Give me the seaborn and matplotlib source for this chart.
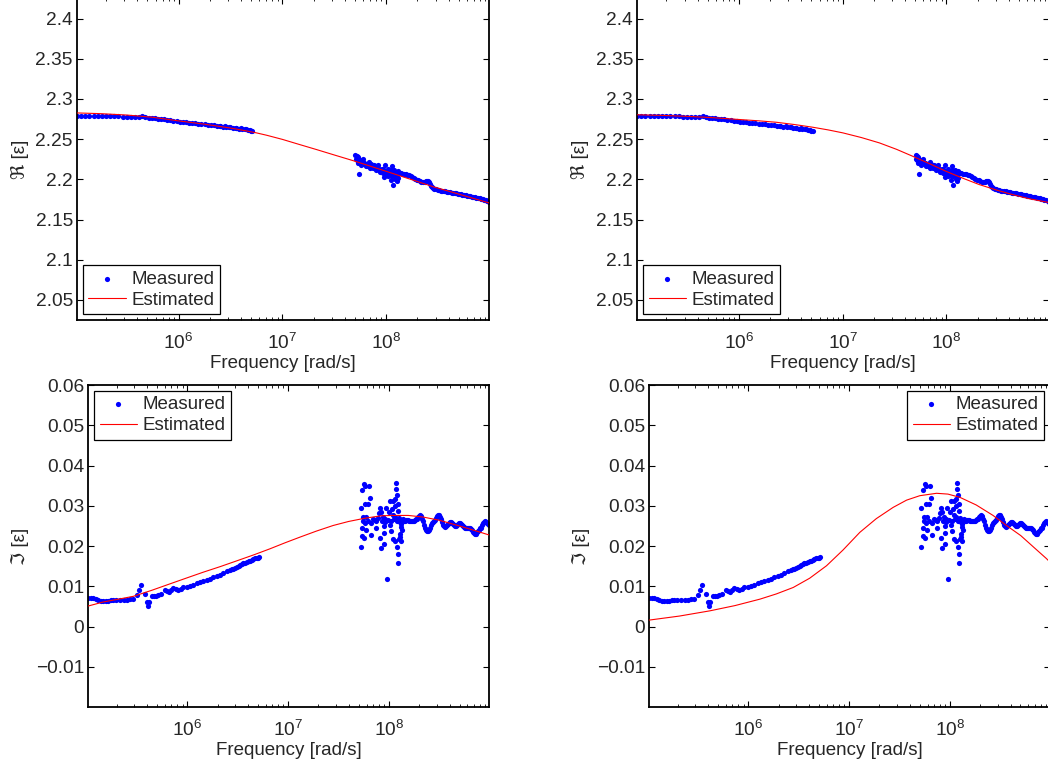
import numpy as np
import matplotlib
matplotlib.use("Agg")
import matplotlib.pyplot as plt
import seaborn as sns
from matplotlib.ticker import FuncFormatter, LogLocator, NullFormatter

# frequencies are kept as log10 of rad/s

# measured real part (same data in both columns)
real_meas_logw = [
    5.021, 5.06, 5.10, 5.14, 5.18, 5.22, 5.26, 5.30, 5.34, 5.38, 5.42, 5.46, 5.50, 5.54, 5.58,
    5.62, 5.65, 5.68, 5.71, 5.74, 5.77, 5.80, 5.83, 5.86, 5.89, 5.92, 5.95, 5.98, 6.01, 6.04,
    6.07, 6.10, 6.13, 6.16, 6.19, 6.22, 6.25, 6.28, 6.31, 6.34, 6.37, 6.40, 6.43, 6.46, 6.49,
    6.52, 6.55, 6.58, 6.61, 6.64, 6.67, 6.70, 6.71,
    6.40, 6.45, 6.50, 6.55, 6.60, 6.65, 6.69,
    # cluster around 1e8
    7.704, 7.715, 7.726, 7.749, 7.774, 7.735, 7.726, 7.759, 7.790, 7.807, 7.838, 7.845, 7.870,
    7.903, 7.918, 7.934, 7.966, 7.983, 7.989, 7.999, 8.014, 8.031, 8.047, 8.062, 8.057, 8.079,
    8.088, 8.101, 8.120,
    7.71, 7.74, 7.77, 7.80, 7.83, 7.86, 7.89, 7.92, 7.95, 7.98, 8.01, 8.04, 8.07, 8.10,
    7.73, 7.75, 7.78, 7.82, 7.85, 7.88, 7.94, 7.97, 8.02, 8.05, 8.09, 8.11,
    7.72, 7.76, 7.79, 7.81, 7.84, 7.87, 7.90, 7.93, 7.96, 7.99, 8.03, 8.06, 8.08, 8.11,
    # upper band
    8.13, 8.16, 8.19, 8.22, 8.25, 8.28, 8.31, 8.34, 8.37, 8.39, 8.41, 8.43, 8.45, 8.48, 8.51,
    8.54, 8.57, 8.60, 8.63, 8.66, 8.69, 8.72, 8.75, 8.78, 8.81, 8.84, 8.87, 8.90, 8.93, 8.96, 8.99,
    8.145, 8.175, 8.205, 8.235, 8.265, 8.295, 8.325, 8.355, 8.38, 8.40, 8.42, 8.44, 8.465, 8.495,
    8.525, 8.555, 8.585, 8.615, 8.645, 8.675, 8.705, 8.735, 8.765, 8.795, 8.825, 8.855, 8.885,
    8.915, 8.945, 8.975,
]
real_meas = [
    2.2790, 2.2790, 2.2789, 2.2789, 2.2788, 2.2788, 2.2787, 2.2786, 2.2785, 2.2784, 2.2783, 2.2781,
    2.2780, 2.2778, 2.2777, 2.2778, 2.2782, 2.2778, 2.2769, 2.2764, 2.2760, 2.2756, 2.2750, 2.2745,
    2.2739, 2.2734, 2.2728, 2.2722, 2.2716, 2.2712, 2.2708, 2.2704, 2.2700, 2.2696, 2.2692, 2.2688,
    2.2684, 2.2680, 2.2676, 2.2672, 2.2667, 2.2661, 2.2656, 2.2650, 2.2645, 2.2640, 2.2635, 2.2630,
    2.2625, 2.2620, 2.2612, 2.2603, 2.2597,
    2.2668, 2.2659, 2.2649, 2.2641, 2.2633, 2.2624, 2.2614,
    2.2308, 2.2290, 2.2280, 2.2246, 2.2254, 2.2072, 2.2205, 2.2184, 2.2205, 2.2163, 2.2213, 2.2143,
    2.2163, 2.2122, 2.2184, 2.2113, 2.2080, 2.2031, 2.2184, 2.2100, 2.2130, 2.2059, 2.1997, 2.1935,
    2.2163, 2.2122, 2.2038, 2.1976, 2.2080,
    2.2250, 2.2230, 2.2215, 2.2195, 2.2180, 2.2160, 2.2150, 2.2135, 2.2115, 2.2100, 2.2085, 2.2070,
    2.2060, 2.2050,
    2.2225, 2.2200, 2.2190, 2.2170, 2.2190, 2.2175, 2.2090, 2.2130, 2.2040, 2.2110, 2.2000, 2.2100,
    2.2235, 2.2225, 2.2200, 2.2185, 2.2165, 2.2140, 2.2160, 2.2120, 2.2125, 2.2080, 2.2095, 2.2040,
    2.2090, 2.2020,
    2.2078, 2.2072, 2.2066, 2.2050, 2.2025, 2.2005, 2.1987, 2.1972, 2.1966, 2.1985, 2.1972, 2.1920,
    2.1893, 2.1874, 2.1864, 2.1856, 2.1849, 2.1842, 2.1836, 2.1830, 2.1823, 2.1815, 2.1807, 2.1797,
    2.1788, 2.1780, 2.1771, 2.1763, 2.1752, 2.1739, 2.1723,
    2.2074, 2.2069, 2.2060, 2.2038, 2.2015, 2.1996, 2.1980, 2.1968, 2.1978, 2.1982, 2.1948, 2.1905,
    2.1882, 2.1868, 2.1860, 2.1852, 2.1845, 2.1839, 2.1833, 2.1826, 2.1819, 2.1811, 2.1802, 2.1792,
    2.1784, 2.1775, 2.1767, 2.1757, 2.1745, 2.1731,
]

# measured imaginary part
imag_meas_logw = [
    5.021, 5.050, 5.071, 5.095, 5.120, 5.145, 5.170, 5.195, 5.219, 5.245, 5.269, 5.300, 5.335,
    5.370, 5.401, 5.435, 5.467, 5.500, 5.523, 5.546, 5.579, 5.599, 5.612, 5.625, 5.649, 5.670,
    5.691, 5.715, 5.738, 5.777, 5.800, 5.820, 5.840, 5.863, 5.890, 5.912, 5.940, 5.962, 5.995,
    6.028, 6.061, 6.094, 6.127, 6.160, 6.193, 6.226, 6.259, 6.292, 6.325, 6.358, 6.391, 6.424,
    6.457, 6.490, 6.523, 6.556, 6.589, 6.622, 6.655, 6.688, 6.714,
    6.44, 6.47, 6.51, 6.54, 6.57, 6.61, 6.64, 6.67, 6.70,
    # scattered cluster around 1e8
    7.751, 7.764, 7.803, 7.731, 7.810, 7.760, 7.790, 7.718, 7.744, 7.777, 7.731, 7.771, 7.731,
    7.751, 7.718, 7.826, 7.843, 7.876, 7.909, 7.926, 7.942, 7.959, 7.909, 7.949, 7.926, 7.949,
    7.981, 7.975, 8.008, 8.041, 8.058, 8.074, 8.074, 8.080, 8.090, 8.041, 8.058, 8.008, 8.025,
    8.041, 8.058, 8.080, 8.090, 8.090, 8.107, 8.124, 8.107, 8.100, 8.140,
    7.86, 7.89, 7.93, 7.96, 7.99, 8.02, 8.05, 8.08, 8.10, 8.12, 8.13, 8.15, 7.87, 7.82, 7.79,
    7.76, 7.74, 7.90, 7.95, 8.00, 8.03, 8.06, 8.09, 8.11, 8.12,
    # oscillating band
    8.157, 8.177, 8.197, 8.217, 8.237, 8.256, 8.276, 8.296, 8.316, 8.336, 8.356, 8.375, 8.395,
    8.415, 8.435, 8.455, 8.474, 8.494, 8.514, 8.534, 8.554, 8.573, 8.593, 8.613, 8.633, 8.653,
    8.673, 8.692, 8.712, 8.732, 8.752, 8.772, 8.791, 8.811, 8.831, 8.851, 8.871, 8.890, 8.910,
    8.930, 8.950, 8.969, 8.989,
    8.167, 8.187, 8.207, 8.227, 8.247, 8.266, 8.286, 8.306, 8.326, 8.346, 8.366, 8.385, 8.405,
    8.425, 8.445, 8.465, 8.484, 8.504, 8.524, 8.544, 8.564, 8.583, 8.603, 8.623, 8.643, 8.663,
    8.683, 8.702, 8.722, 8.742, 8.762, 8.782, 8.801, 8.821, 8.841, 8.861, 8.881, 8.900, 8.920,
    8.940, 8.960, 8.979,
]
imag_meas = [
    0.0071, 0.0071, 0.0070, 0.0068, 0.0066, 0.0064, 0.0063, 0.0063, 0.0064, 0.0065, 0.0066, 0.0066,
    0.0067, 0.0067, 0.0067, 0.0068, 0.0069, 0.0078, 0.0090, 0.0103, 0.0080, 0.0060, 0.0051, 0.0061,
    0.0076, 0.0077, 0.0077, 0.0079, 0.0080, 0.0091, 0.0088, 0.0086, 0.0090, 0.0095, 0.0093, 0.0091,
    0.0094, 0.0097, 0.0099, 0.0101, 0.0104, 0.0107, 0.0110, 0.0113, 0.0116, 0.0119, 0.0122, 0.0125,
    0.0129, 0.0133, 0.0137, 0.0141, 0.0144, 0.0148, 0.0153, 0.0157, 0.0160, 0.0164, 0.0167, 0.0170,
    0.0173,
    0.0143, 0.0146, 0.0151, 0.0155, 0.0158, 0.0163, 0.0166, 0.0169, 0.0171,
    0.0353, 0.0350, 0.0350, 0.0338, 0.0319, 0.0305, 0.0305, 0.0295, 0.0272, 0.0272, 0.0244, 0.0240,
    0.0226, 0.0220, 0.0197, 0.0227, 0.0267, 0.0263, 0.0294, 0.0284, 0.0272, 0.0259, 0.0220, 0.0232,
    0.0194, 0.0205, 0.0118, 0.0294, 0.0311, 0.0313, 0.0317, 0.0357, 0.0342, 0.0327, 0.0288, 0.0276,
    0.0272, 0.0251, 0.0238, 0.0217, 0.0213, 0.0197, 0.0180, 0.0158, 0.0259, 0.0247, 0.0230, 0.0217,
    0.0267,
    0.0265, 0.0270, 0.0262, 0.0268, 0.0265, 0.0262, 0.0268, 0.0262, 0.0270, 0.0255, 0.0240, 0.0262,
    0.0245, 0.0258, 0.0262, 0.0258, 0.0262, 0.0283, 0.0250, 0.0285, 0.0292, 0.0300, 0.0305, 0.0222,
    0.0212,
    0.0262, 0.0265, 0.0263, 0.0261, 0.0263, 0.0264, 0.0268, 0.0275, 0.0274, 0.0262, 0.0245, 0.0237,
    0.0240, 0.0252, 0.0259, 0.0265, 0.0274, 0.0277, 0.0266, 0.0252, 0.0248, 0.0252, 0.0258, 0.0260,
    0.0255, 0.0249, 0.0252, 0.0256, 0.0254, 0.0249, 0.0245, 0.0244, 0.0246, 0.0242, 0.0236, 0.0230,
    0.0234, 0.0241, 0.0246, 0.0256, 0.0261, 0.0257, 0.0253,
    0.0264, 0.0264, 0.0262, 0.0262, 0.0263, 0.0266, 0.0272, 0.0276, 0.0268, 0.0253, 0.0240, 0.0238,
    0.0246, 0.0256, 0.0262, 0.0270, 0.0276, 0.0272, 0.0259, 0.0249, 0.0250, 0.0255, 0.0259, 0.0258,
    0.0252, 0.0250, 0.0254, 0.0256, 0.0251, 0.0247, 0.0244, 0.0245, 0.0244, 0.0239, 0.0233, 0.0231,
    0.0237, 0.0244, 0.0251, 0.0259, 0.0259, 0.0255,
]

# estimated curves, left column model
est_real_left_logw = [5.021, 5.25, 5.50, 5.75, 6.00, 6.25, 6.50, 6.65, 6.75, 6.85, 7.00, 7.16,
                      7.33, 7.50, 7.68, 7.84, 8.00, 8.16, 8.32, 8.46, 8.61, 8.80, 8.99]
est_real_left = [2.2826, 2.2817, 2.2800, 2.2772, 2.2727, 2.2686, 2.2638, 2.2603, 2.2578, 2.2548,
                 2.2497, 2.2435, 2.2370, 2.2303, 2.2233, 2.2167, 2.2100, 2.2032, 2.1965, 2.1905,
                 2.1850, 2.1778, 2.1707]
est_imag_left_logw = [5.021, 5.17, 5.32, 5.467, 5.65, 5.83, 6.00, 6.16, 6.33, 6.49, 6.66, 6.82,
                      6.97, 7.117, 7.28, 7.447, 7.60, 7.76, 7.92, 8.041, 8.19, 8.338, 8.50,
                      8.668, 8.83, 8.998]
est_imag_left = [0.0051, 0.0061, 0.0068, 0.0075, 0.0090, 0.0106, 0.0121, 0.0135, 0.0149, 0.0163,
                 0.0178, 0.0193, 0.0208, 0.0222, 0.0237, 0.0251, 0.0261, 0.0269, 0.0275, 0.0276,
                 0.0276, 0.0272, 0.0264, 0.0252, 0.0240, 0.0227]

# estimated curves, right column model
est_real_right_logw = [5.021, 5.25, 5.496, 5.75, 6.008, 6.19, 6.361, 6.54, 6.713, 6.86, 7.002,
                       7.18, 7.355, 7.52, 7.675, 7.84, 7.996, 8.16, 8.316, 8.48, 8.637, 8.80,
                       8.973, 8.991]
est_real_right = [2.2803, 2.2796, 2.2784, 2.2767, 2.2744, 2.2728, 2.2710, 2.2681, 2.2648, 2.2615,
                  2.2578, 2.2520, 2.2453, 2.2373, 2.2287, 2.2193, 2.2100, 2.2013, 2.1935, 2.1868,
                  2.1810, 2.1758, 2.1715, 2.1711]
est_imag_right_logw = [5.021, 5.32, 5.622, 5.87, 6.117, 6.28, 6.447, 6.61, 6.777, 6.94, 7.107,
                       7.27, 7.437, 7.57, 7.701, 7.867, 7.98, 8.098, 8.26, 8.427, 8.56, 8.701,
                       8.83, 8.955, 8.991]
est_imag_right = [0.0016, 0.0026, 0.0039, 0.0052, 0.0068, 0.0081, 0.0097, 0.0120, 0.0151, 0.0190,
                  0.0234, 0.0268, 0.0296, 0.0314, 0.0325, 0.0331, 0.0329, 0.0321, 0.0302, 0.0276,
                  0.0251, 0.0226, 0.0197, 0.0169, 0.0160]

real_ticks = [2.05, 2.1, 2.15, 2.2, 2.25, 2.3, 2.35, 2.4]
imag_ticks = [-0.01, 0, 0.01, 0.02, 0.03, 0.04, 0.05, 0.06]

sns.set_theme(style="white")
plt.rcParams["font.family"] = ["Liberation Sans", "DejaVu Sans"]
plt.rcParams["mathtext.default"] = "regular"

fig = plt.figure(figsize=(10.48, 7.65), dpi=100)
ax_rl = fig.add_axes([0.0735, 0.5817, 0.3931, 0.4203])
ax_il = fig.add_axes([0.0843, 0.0758, 0.3823, 0.4209])
ax_rr = fig.add_axes([0.6081, 0.5817, 0.3931, 0.4203])
ax_ir = fig.add_axes([0.6196, 0.0758, 0.3823, 0.4209])


def tick_fmt(v, pos):
    return ("%g" % round(v, 4)).replace("-", "\u2212")


def draw(ax, mw, mv, ew, ev, ylab, yticks, ylim, legloc):
    w = 10 ** np.array(mw)
    sns.scatterplot(x=w, y=mv, ax=ax, color="blue", s=14, linewidth=0,
                    label="Measured", zorder=2)
    sns.lineplot(x=10 ** np.array(ew), y=ev, ax=ax, color="red", linewidth=0.8,
                 sort=False, estimator=None, label="Estimated", zorder=3)
    ax.set_xscale("log")
    ax.set_xlim(1.05e5, 9.8e8)
    ax.set_ylim(*ylim)
    ax.set_yticks(yticks)
    ax.yaxis.set_major_formatter(FuncFormatter(tick_fmt))
    ax.xaxis.set_major_locator(LogLocator(base=10))
    ax.xaxis.set_minor_locator(LogLocator(base=10, subs=np.arange(2, 10)))
    ax.xaxis.set_minor_formatter(NullFormatter())
    ax.tick_params(which="both", direction="in", top=True, right=True, bottom=True,
                   left=True, color="black", labelsize=13.8)
    ax.tick_params(axis="y", pad=3)
    ax.tick_params(axis="x", pad=9.5)
    ax.tick_params(which="major", length=4, width=0.8)
    ax.tick_params(which="minor", length=2, width=0.6)
    for sp in ax.spines.values():
        sp.set_color("black")
        sp.set_linewidth(1.3)
    ax.set_xlabel("Frequency [rad/s]", fontsize=13.5, labelpad=1)
    ax.set_ylabel(ylab, fontsize=13.5, labelpad=5)
    leg = ax.legend(loc=legloc, fontsize=13.5, frameon=True, fancybox=False,
                    edgecolor="black", framealpha=1, borderaxespad=0.3,
                    handlelength=2.0, handletextpad=0.3, labelspacing=0.2,
                    borderpad=0.3, markerscale=1.0)
    leg.get_frame().set_linewidth(0.9)


draw(ax_rl, real_meas_logw, real_meas, est_real_left_logw, est_real_left,
     "\u211c [\u03b5]", real_ticks, (2.025, 2.425), "lower left")
draw(ax_il, imag_meas_logw, imag_meas, est_imag_left_logw, est_imag_left,
     "\u2111 [\u03b5]", imag_ticks, (-0.02, 0.06), "upper left")
draw(ax_rr, real_meas_logw, real_meas, est_real_right_logw, est_real_right,
     "\u211c [\u03b5]", real_ticks, (2.025, 2.425), "lower left")
draw(ax_ir, imag_meas_logw, imag_meas, est_imag_right_logw, est_imag_right,
     "\u2111 [\u03b5]", imag_ticks, (-0.02, 0.06), "upper right")

fig.savefig("out.png", dpi=100)
